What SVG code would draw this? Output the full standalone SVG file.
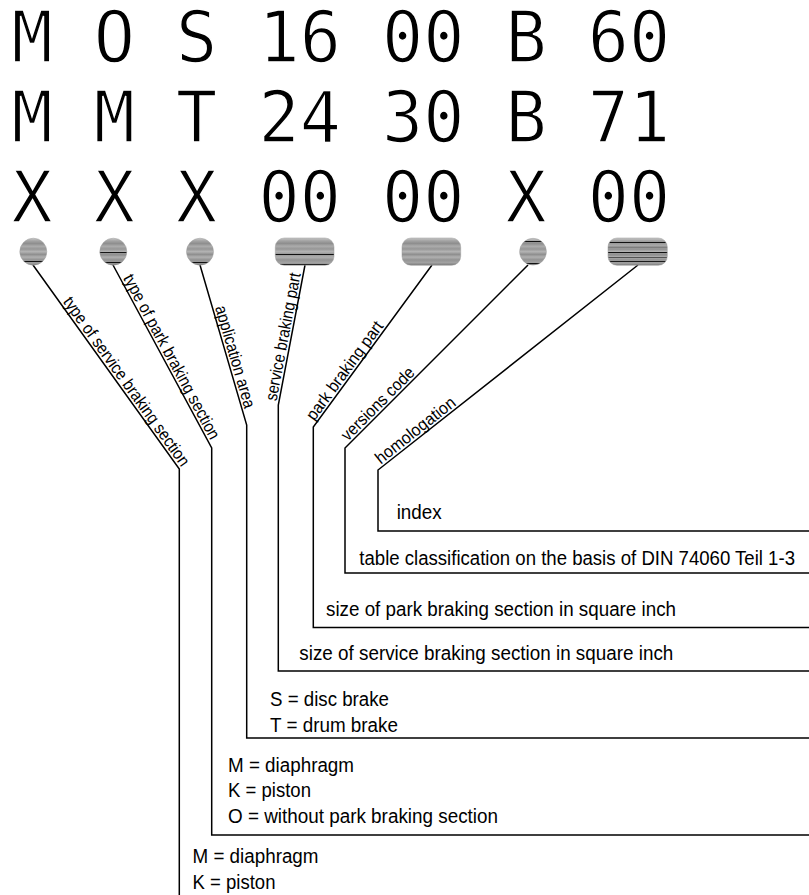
<svg xmlns="http://www.w3.org/2000/svg" width="809" height="895" viewBox="0 0 809 895">
<style>
.code{font-family:"DejaVu Sans Mono",monospace;font-size:68.4px;fill:#000;stroke:#fff;stroke-width:1.4px}
.lab{font-family:"Liberation Sans",Arial,sans-serif;font-size:17px;fill:#000}
.desc{font-family:"Liberation Sans",Arial,sans-serif;font-size:20px;fill:#000}
.con{fill:none;stroke:#000;stroke-width:1.5;stroke-linejoin:miter}
.ov{stroke:#9a9a9a;stroke-width:0.5}
</style>
<defs>
<linearGradient id="g1" x1="0" y1="0" x2="0" y2="1">
<stop offset="0" stop-color="#c8c8c8"/><stop offset="0.1" stop-color="#a4a4a4"/><stop offset="0.2" stop-color="#8e8e8e"/><stop offset="0.3" stop-color="#acacac"/><stop offset="0.4" stop-color="#969696"/><stop offset="0.5" stop-color="#b4b4b4"/><stop offset="0.6" stop-color="#8e8e8e"/><stop offset="0.7" stop-color="#b0b0b0"/><stop offset="0.8" stop-color="#939393"/><stop offset="0.85" stop-color="#999"/><stop offset="0.86" stop-color="#111"/><stop offset="0.88" stop-color="#111"/><stop offset="0.89" stop-color="#999"/><stop offset="0.92" stop-color="#a2a2a2"/><stop offset="1" stop-color="#787878"/>
</linearGradient>
<linearGradient id="g2" x1="0" y1="0" x2="0" y2="1">
<stop offset="0" stop-color="#c8c8c8"/><stop offset="0.1" stop-color="#a4a4a4"/><stop offset="0.2" stop-color="#8e8e8e"/><stop offset="0.3" stop-color="#acacac"/><stop offset="0.4" stop-color="#969696"/><stop offset="0.5" stop-color="#b4b4b4"/><stop offset="0.52" stop-color="#aaa"/><stop offset="0.53" stop-color="#111"/><stop offset="0.55" stop-color="#111"/><stop offset="0.56" stop-color="#999"/><stop offset="0.62" stop-color="#8e8e8e"/><stop offset="0.7" stop-color="#b0b0b0"/><stop offset="0.8" stop-color="#939393"/><stop offset="0.88" stop-color="#9a9a9a"/><stop offset="0.89" stop-color="#111"/><stop offset="0.91" stop-color="#111"/><stop offset="0.92" stop-color="#999"/><stop offset="1" stop-color="#787878"/>
</linearGradient>
<linearGradient id="g3" x1="0" y1="0" x2="0" y2="1">
<stop offset="0" stop-color="#c8c8c8"/><stop offset="0.1" stop-color="#a4a4a4"/><stop offset="0.2" stop-color="#8e8e8e"/><stop offset="0.3" stop-color="#acacac"/><stop offset="0.4" stop-color="#969696"/><stop offset="0.5" stop-color="#b4b4b4"/><stop offset="0.6" stop-color="#8e8e8e"/><stop offset="0.7" stop-color="#b0b0b0"/><stop offset="0.8" stop-color="#939393"/><stop offset="0.88" stop-color="#999"/><stop offset="0.89" stop-color="#111"/><stop offset="0.91" stop-color="#111"/><stop offset="0.92" stop-color="#999"/><stop offset="1" stop-color="#787878"/>
</linearGradient>
<linearGradient id="g4" x1="0" y1="0" x2="0" y2="1">
<stop offset="0" stop-color="#c8c8c8"/><stop offset="0.1" stop-color="#a4a4a4"/><stop offset="0.2" stop-color="#8e8e8e"/><stop offset="0.3" stop-color="#acacac"/><stop offset="0.4" stop-color="#969696"/><stop offset="0.5" stop-color="#b4b4b4"/><stop offset="0.58" stop-color="#999"/><stop offset="0.59" stop-color="#111"/><stop offset="0.61" stop-color="#111"/><stop offset="0.62" stop-color="#999"/><stop offset="0.7" stop-color="#b0b0b0"/><stop offset="0.8" stop-color="#939393"/><stop offset="0.9" stop-color="#a2a2a2"/><stop offset="0.94" stop-color="#999"/><stop offset="0.95" stop-color="#111"/><stop offset="0.97" stop-color="#111"/><stop offset="0.98" stop-color="#888"/><stop offset="1" stop-color="#787878"/>
</linearGradient>
<linearGradient id="g5" x1="0" y1="0" x2="0" y2="1">
<stop offset="0" stop-color="#c8c8c8"/><stop offset="0.1" stop-color="#a4a4a4"/><stop offset="0.2" stop-color="#8e8e8e"/><stop offset="0.3" stop-color="#acacac"/><stop offset="0.4" stop-color="#969696"/><stop offset="0.5" stop-color="#b4b4b4"/><stop offset="0.6" stop-color="#8e8e8e"/><stop offset="0.7" stop-color="#b0b0b0"/><stop offset="0.8" stop-color="#939393"/><stop offset="0.9" stop-color="#a2a2a2"/><stop offset="1" stop-color="#787878"/>
</linearGradient>
<linearGradient id="g6" x1="0" y1="0" x2="0" y2="1">
<stop offset="0" stop-color="#c8c8c8"/><stop offset="0.09" stop-color="#aaa"/><stop offset="0.1" stop-color="#111"/><stop offset="0.12" stop-color="#111"/><stop offset="0.13" stop-color="#999"/><stop offset="0.2" stop-color="#8e8e8e"/><stop offset="0.3" stop-color="#acacac"/><stop offset="0.4" stop-color="#969696"/><stop offset="0.5" stop-color="#b4b4b4"/><stop offset="0.6" stop-color="#8e8e8e"/><stop offset="0.7" stop-color="#b0b0b0"/><stop offset="0.8" stop-color="#939393"/><stop offset="0.9" stop-color="#a2a2a2"/><stop offset="0.92" stop-color="#999"/><stop offset="0.93" stop-color="#111"/><stop offset="0.95" stop-color="#111"/><stop offset="0.96" stop-color="#888"/><stop offset="1" stop-color="#787878"/>
</linearGradient>
<linearGradient id="g7" x1="0" y1="0" x2="0" y2="1">
<stop offset="0" stop-color="#c8c8c8"/><stop offset="0.1" stop-color="#a4a4a4"/><stop offset="0.15" stop-color="#999"/><stop offset="0.16" stop-color="#111"/><stop offset="0.18" stop-color="#111"/><stop offset="0.19" stop-color="#999"/><stop offset="0.3" stop-color="#acacac"/><stop offset="0.31" stop-color="#aaa"/><stop offset="0.32" stop-color="#111"/><stop offset="0.34" stop-color="#111"/><stop offset="0.35" stop-color="#999"/><stop offset="0.42" stop-color="#969696"/><stop offset="0.5" stop-color="#b4b4b4"/><stop offset="0.52" stop-color="#aaa"/><stop offset="0.53" stop-color="#111"/><stop offset="0.55" stop-color="#111"/><stop offset="0.56" stop-color="#999"/><stop offset="0.62" stop-color="#8e8e8e"/><stop offset="0.68" stop-color="#aaa"/><stop offset="0.69" stop-color="#111"/><stop offset="0.71" stop-color="#111"/><stop offset="0.72" stop-color="#aaa"/><stop offset="0.8" stop-color="#939393"/><stop offset="0.83" stop-color="#999"/><stop offset="0.84" stop-color="#111"/><stop offset="0.86" stop-color="#111"/><stop offset="0.87" stop-color="#999"/><stop offset="0.92" stop-color="#a2a2a2"/><stop offset="1" stop-color="#787878"/>
</linearGradient>
</defs>
<rect x="0" y="0" width="809" height="895" fill="#fff"/>
<g id="codes">
<text class="code" x="11.4" y="0" transform="translate(0,61.7) scale(1,1.05)">M O S 16 00 B 60</text>
<text class="code" x="11.4" y="0" transform="translate(0,141.7) scale(1,1.05)">M M T 24 30 B 71</text>
<text class="code" x="11.4" y="0" transform="translate(0,221.7) scale(1,1.05)">X X X 00 00 X 00</text>
</g>
<g id="connectors">
<polyline class="con" points="33,265 179.3,469 179.3,895"/>
<polyline class="con" points="113,265 211.7,448 211.7,835 809,835"/>
<polyline class="con" points="200,265 246.7,425 246.7,738 809,738"/>
<polyline class="con" points="305,265 278.3,405 278.3,671 809,671"/>
<polyline class="con" points="432,265 313.3,427 313.3,627.5 809,627.5"/>
<polyline class="con" points="528,265 345,448 345,573 809,573"/>
<polyline class="con" points="638,265 378,470 378,531 809,531"/>
</g>
<g id="node-service-type">
<circle class="ov" cx="33.3" cy="251.7" r="13.5" fill="url(#g1)"/>
<text class="lab" transform="translate(33,265) rotate(54.35)" x="47" y="-2.5" textLength="204" lengthAdjust="spacingAndGlyphs">type of service braking section</text>
<text class="desc" x="192.5" y="863" textLength="126" lengthAdjust="spacingAndGlyphs">M = diaphragm</text>
<text class="desc" x="192.5" y="888.5" textLength="83" lengthAdjust="spacingAndGlyphs">K = piston</text>
</g>
<g id="node-park-type">
<circle class="ov" cx="113.3" cy="251.7" r="13.5" fill="url(#g2)"/>
<text class="lab" transform="translate(113,265) rotate(61.66)" x="16" y="-2.5" textLength="185" lengthAdjust="spacingAndGlyphs">type of park braking section</text>
<text class="desc" x="228" y="771.5" textLength="126" lengthAdjust="spacingAndGlyphs">M = diaphragm</text>
<text class="desc" x="228" y="797" textLength="83" lengthAdjust="spacingAndGlyphs">K = piston</text>
<text class="desc" x="228" y="822.5" textLength="270" lengthAdjust="spacingAndGlyphs">O = without park braking section</text>
</g>
<g id="node-application">
<circle class="ov" cx="200" cy="251.7" r="13.5" fill="url(#g3)"/>
<text class="lab" transform="translate(200,265) rotate(73.73)" x="45" y="-2.5" textLength="106" lengthAdjust="spacingAndGlyphs">application area</text>
<text class="desc" x="270" y="706" textLength="119" lengthAdjust="spacingAndGlyphs">S = disc brake</text>
<text class="desc" x="270" y="731.5" textLength="128" lengthAdjust="spacingAndGlyphs">T = drum brake</text>
</g>
<g id="node-service-part">
<rect class="ov" x="275.3" y="238" width="58.7" height="27.3" rx="9" fill="url(#g4)"/>
<text class="lab" transform="translate(278.3,405) rotate(-79.2)" x="3" y="-2.5" textLength="130" lengthAdjust="spacingAndGlyphs">service braking part</text>
<text class="desc" x="299.3" y="660" textLength="374" lengthAdjust="spacingAndGlyphs">size of service braking section in square inch</text>
</g>
<g id="node-park-part">
<rect class="ov" x="402" y="238" width="58.7" height="27.3" rx="9" fill="url(#g5)"/>
<text class="lab" transform="translate(313.3,427) rotate(-53.77)" x="5" y="-2.5" textLength="118" lengthAdjust="spacingAndGlyphs">park braking part</text>
<text class="desc" x="326" y="616" textLength="350" lengthAdjust="spacingAndGlyphs">size of park braking section in square inch</text>
</g>
<g id="node-versions">
<circle class="ov" cx="533" cy="251.7" r="13.4" fill="url(#g6)"/>
<text class="lab" transform="translate(345,448) rotate(-45)" x="6.5" y="-2.5" textLength="96" lengthAdjust="spacingAndGlyphs">versions code</text>
<text class="desc" x="359.3" y="565" textLength="435.7" lengthAdjust="spacingAndGlyphs">table classification on the basis of DIN 74060 Teil 1-3</text>
</g>
<g id="node-homologation">
<rect class="ov" x="608" y="238" width="59.3" height="27.3" rx="9" fill="url(#g7)"/>
<text class="lab" transform="translate(378,470) rotate(-38.26)" x="5.5" y="-2.5" textLength="97" lengthAdjust="spacingAndGlyphs">homologation</text>
<text class="desc" x="396.7" y="519" textLength="45" lengthAdjust="spacingAndGlyphs">index</text>
</g>
</svg>
